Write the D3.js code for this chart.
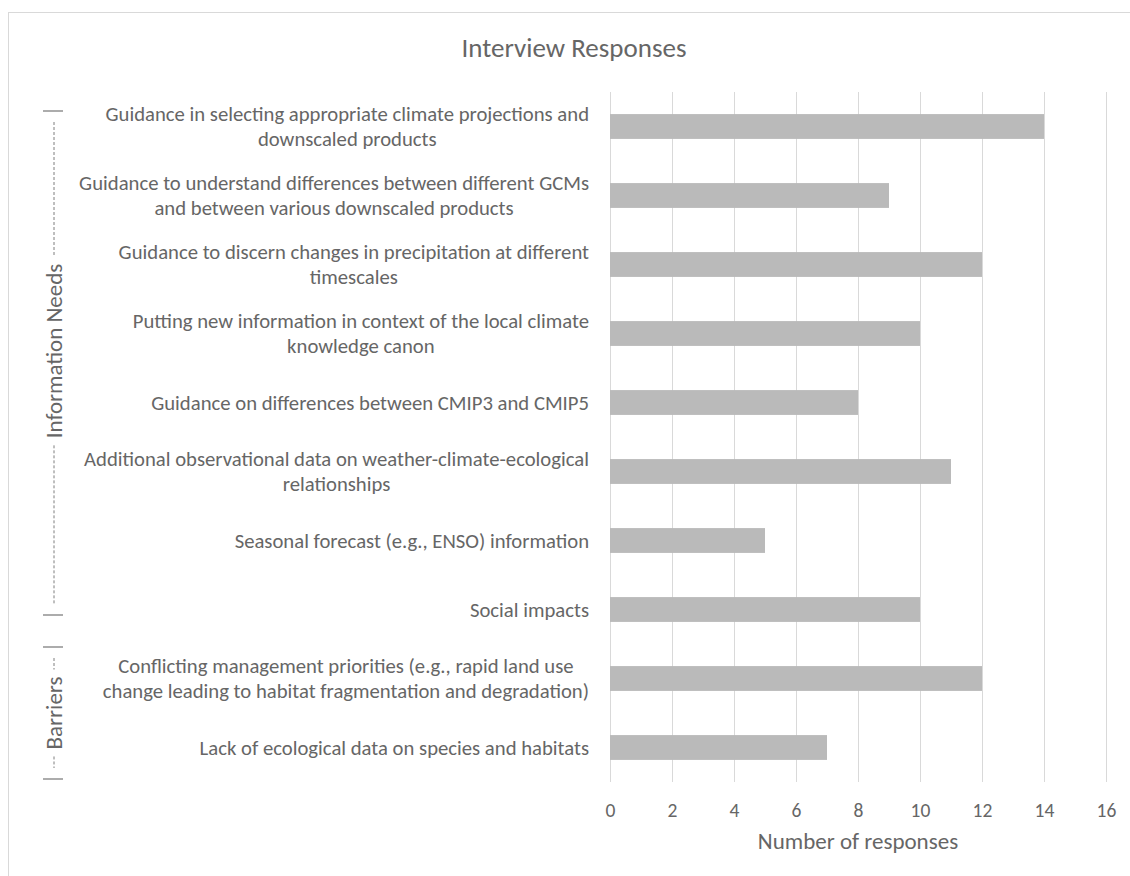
<!DOCTYPE html>
<html>
<head>
<meta charset="utf-8">
<script src="https://cdn.jsdelivr.net/npm/d3@7"></script>
<style>
  body { margin: 0; background: #fff; }
  text { font-family: Carlito, Calibri, Lato, sans-serif; fill: #666666; }
</style>
</head>
<body>
<svg id="chart" width="1130" height="876"></svg>
<script>
// categories, top to bottom ("\n" = where the reference wraps the label)
const categories = [
    "Guidance in selecting appropriate climate projections and\ndownscaled products",
    "Guidance to understand differences between different GCMs\nand between various downscaled products",
    "Guidance to discern changes in precipitation at different\ntimescales",
    "Putting new information in context of the local climate\nknowledge canon",
    "Guidance on differences between CMIP3 and CMIP5",
    "Additional observational data on weather-climate-ecological\nrelationships",
    "Seasonal forecast (e.g., ENSO) information",
    "Social impacts",
    "Conflicting management priorities (e.g., rapid land use\nchange leading to habitat fragmentation and degradation)",
    "Lack of ecological data on species and habitats"
];
const responses = [14, 9, 12, 10, 8, 11, 5, 10, 12, 7];
const groupNames = ["Information Needs", "Barriers"];
const groupSizes = [8, 2];
const xTicks = [0, 2, 4, 6, 8, 10, 12, 14, 16];
const chartTitle = "Interview Responses";
const xTitle = "Number of responses";

function drawChart() {
    var svg = d3.select("#chart"),
        left = 610, right = 1106,
        top = 92, bottom = 782;

    // outer chart frame (only left/top edges are in view)
    svg.append("rect")
        .attr("x", 8.5).attr("y", 12.5)
        .attr("width", 1140).attr("height", 900)
        .attr("fill", "none")
        .attr("stroke", "#d9d9d9");

    var xScale = d3.scaleLinear().domain([0, 16]).range([left, right]);
    var yScale = d3.scaleBand().domain(d3.range(categories.length))
        .range([top, bottom]).paddingInner(0.64).paddingOuter(0.32);

    // Title
    svg.append("text")
        .attr("x", 574).attr("y", 57)
        .attr("text-anchor", "middle")
        .style("font-size", "27px")
        .text(chartTitle);

    // grid lines + tick labels
    var xAxis = d3.axisBottom(xScale).tickValues(xTicks)
        .tickSize(-(bottom - top)).tickPadding(21);
    var gx = svg.append("g")
        .attr("transform", "translate(0," + bottom + ")")
        .call(xAxis);
    gx.select(".domain").remove();
    gx.selectAll(".tick line").attr("stroke", "#d9d9d9");
    gx.selectAll(".tick text")
        .style("font-size", "19.5px")
        .attr("fill", "#666666");

    // X label
    svg.append("text")
        .attr("x", (left + right) / 2)
        .attr("y", 849)
        .attr("text-anchor", "middle")
        .style("font-size", "23px")
        .text(xTitle);

    // bars
    svg.selectAll(".bar")
        .data(responses)
        .enter()
        .append("rect")
        .attr("class", "bar")
        .attr("x", xScale(0))
        .attr("y", function(d, i) { return yScale(i); })
        .attr("width", function(d) { return xScale(d) - xScale(0); })
        .attr("height", yScale.bandwidth())
        .attr("fill", "#bababa");

    // category labels: block right-aligned, lines centred in the block
    var labelRight = 589, lineGap = 25;
    categories.forEach(function(c, i) {
        var lines = c.split("\n");
        var cy = yScale(i) + yScale.bandwidth() / 2;
        var g = svg.append("g");
        var texts = lines.map(function(l, k) {
            return g.append("text")
                .attr("y", cy + (k - (lines.length - 1) / 2) * lineGap + 7)
                .attr("text-anchor", "middle")
                .style("font-size", "20.7px")
                .text(l);
        });
        var w = d3.max(texts, function(t) { return t.node().getComputedTextLength(); });
        texts.forEach(function(t) { t.attr("x", labelRight - w / 2); });
    });

    // group brackets on the left
    var insets = [[19, 29], [3, 3]];
    var textShift = [-12, 0];
    var bx = 54, start = 0;
    groupNames.forEach(function(name, gi) {
        var y0 = yScale(start) - yScale.step() * 0.32 + insets[gi][0];
        var y1 = yScale(start + groupSizes[gi] - 1) + yScale.bandwidth() + yScale.step() * 0.32 - insets[gi][1];
        start += groupSizes[gi];
        var mid = (y0 + y1) / 2 + textShift[gi];
        var t = svg.append("text")
            .attr("transform", "translate(" + (bx + 8) + "," + mid + ")rotate(-90)")
            .attr("text-anchor", "middle")
            .style("font-size", "23px")
            .text(name);
        var half = t.node().getComputedTextLength() / 2 + 7;
        [y0, y1].forEach(function(y) {
            svg.append("line")
                .attr("x1", bx - 11).attr("x2", bx + 9)
                .attr("y1", y).attr("y2", y)
                .attr("stroke", "#7f7f7f").attr("stroke-width", 1.3);
        });
        [[y0 + 11, mid - half], [mid + half, y1 - 11]].forEach(function(s) {
            svg.append("line")
                .attr("x1", bx).attr("x2", bx)
                .attr("y1", s[0]).attr("y2", s[1])
                .attr("stroke", "#7f7f7f")
                .attr("stroke-dasharray", "3,2");
        });
    });
}
drawChart();
</script>
</body>
</html>
